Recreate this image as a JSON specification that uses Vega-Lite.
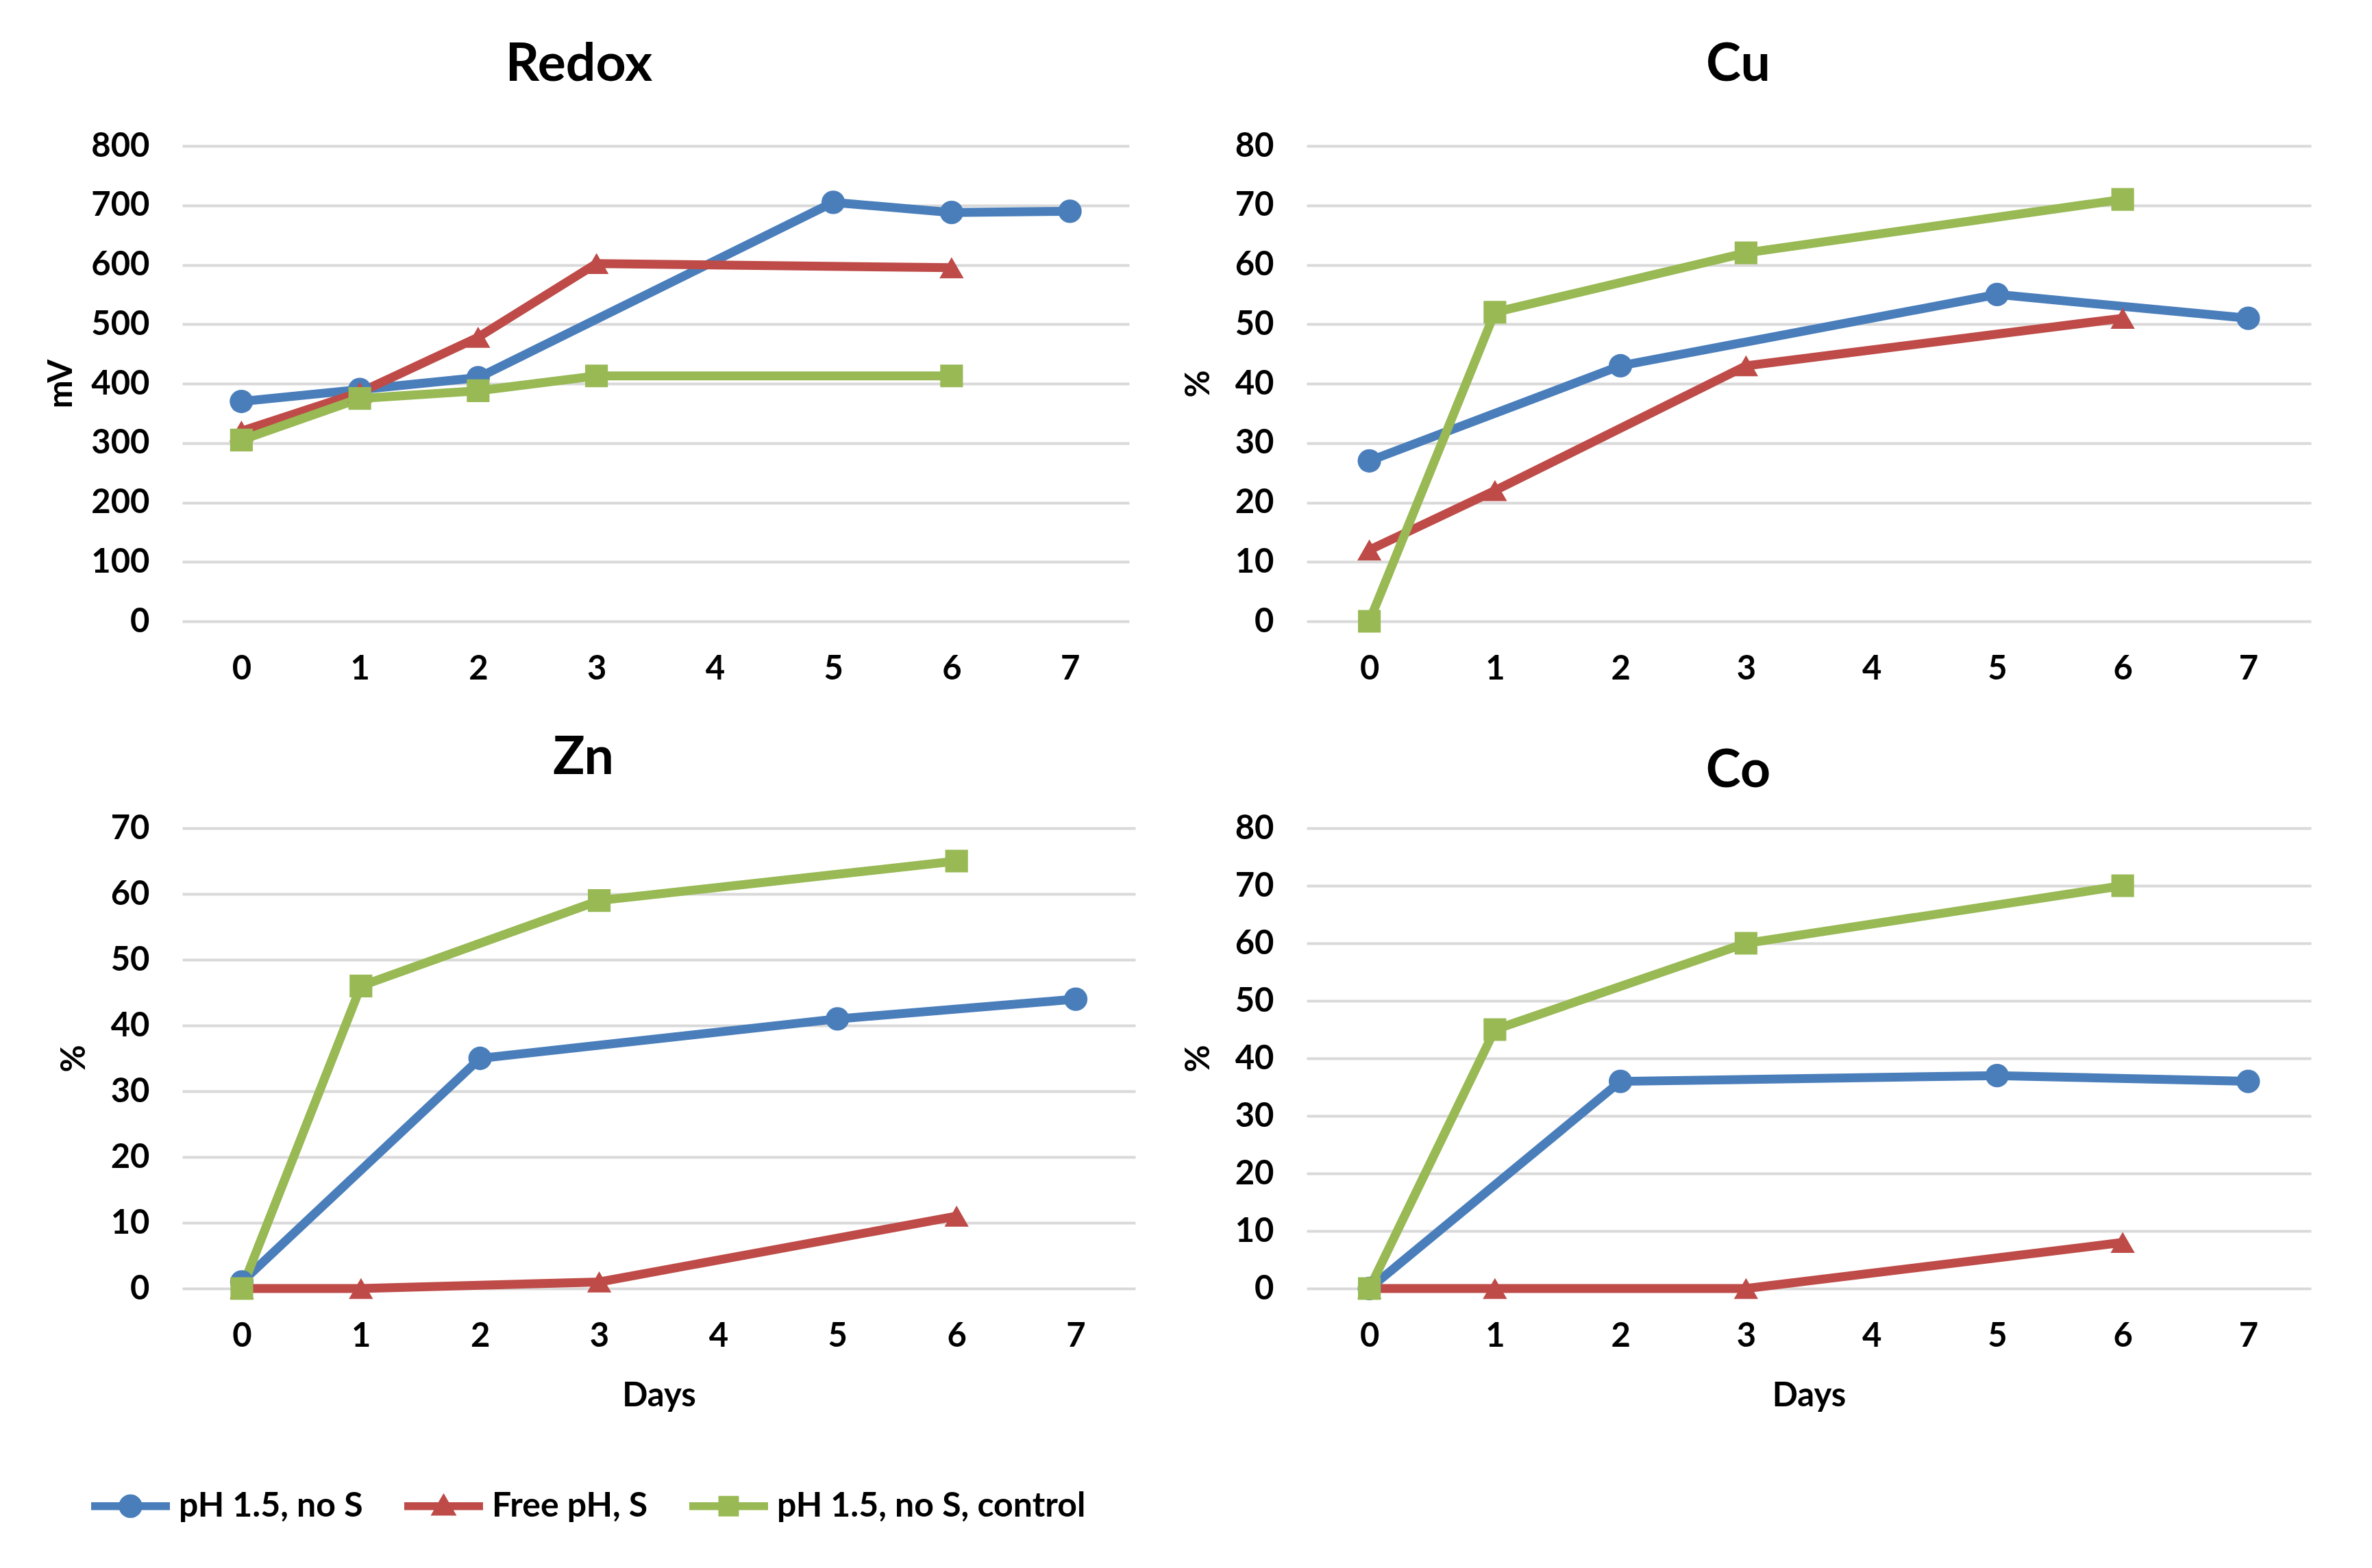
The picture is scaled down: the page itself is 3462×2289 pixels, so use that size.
{
  "$schema": "https://vega.github.io/schema/vega-lite/v6.json",
  "autosize": {"type": "none"},
  "padding": {"left": 266, "top": 213, "right": 3196, "bottom": 2076},
  "background": "white",
  "datasets": {
    "redox": [
      {"series": "pH 1.5, no S", "day": 0, "value": 370},
      {"series": "pH 1.5, no S", "day": 1, "value": 390},
      {"series": "pH 1.5, no S", "day": 2, "value": 410},
      {"series": "pH 1.5, no S", "day": 5, "value": 705},
      {"series": "pH 1.5, no S", "day": 6, "value": 688},
      {"series": "pH 1.5, no S", "day": 7, "value": 690},
      {"series": "Free pH, S", "day": 0, "value": 320},
      {"series": "Free pH, S", "day": 1, "value": 385},
      {"series": "Free pH, S", "day": 2, "value": 478},
      {"series": "Free pH, S", "day": 3, "value": 602},
      {"series": "Free pH, S", "day": 6, "value": 595},
      {"series": "pH 1.5, no S, control", "day": 0, "value": 305},
      {"series": "pH 1.5, no S, control", "day": 1, "value": 375},
      {"series": "pH 1.5, no S, control", "day": 2, "value": 388},
      {"series": "pH 1.5, no S, control", "day": 3, "value": 413},
      {"series": "pH 1.5, no S, control", "day": 6, "value": 413}
    ],
    "cu": [
      {"series": "pH 1.5, no S", "day": 0, "value": 27},
      {"series": "pH 1.5, no S", "day": 2, "value": 43},
      {"series": "pH 1.5, no S", "day": 5, "value": 55},
      {"series": "pH 1.5, no S", "day": 7, "value": 51},
      {"series": "Free pH, S", "day": 0, "value": 12},
      {"series": "Free pH, S", "day": 1, "value": 22},
      {"series": "Free pH, S", "day": 3, "value": 43},
      {"series": "Free pH, S", "day": 6, "value": 51},
      {"series": "pH 1.5, no S, control", "day": 0, "value": 0},
      {"series": "pH 1.5, no S, control", "day": 1, "value": 52},
      {"series": "pH 1.5, no S, control", "day": 3, "value": 62},
      {"series": "pH 1.5, no S, control", "day": 6, "value": 71}
    ],
    "zn": [
      {"series": "pH 1.5, no S", "day": 0, "value": 1},
      {"series": "pH 1.5, no S", "day": 2, "value": 35},
      {"series": "pH 1.5, no S", "day": 5, "value": 41},
      {"series": "pH 1.5, no S", "day": 7, "value": 44},
      {"series": "Free pH, S", "day": 0, "value": 0},
      {"series": "Free pH, S", "day": 1, "value": 0},
      {"series": "Free pH, S", "day": 3, "value": 1},
      {"series": "Free pH, S", "day": 6, "value": 11},
      {"series": "pH 1.5, no S, control", "day": 0, "value": 0},
      {"series": "pH 1.5, no S, control", "day": 1, "value": 46},
      {"series": "pH 1.5, no S, control", "day": 3, "value": 59},
      {"series": "pH 1.5, no S, control", "day": 6, "value": 65}
    ],
    "co": [
      {"series": "pH 1.5, no S", "day": 0, "value": 0},
      {"series": "pH 1.5, no S", "day": 2, "value": 36},
      {"series": "pH 1.5, no S", "day": 5, "value": 37},
      {"series": "pH 1.5, no S", "day": 7, "value": 36},
      {"series": "Free pH, S", "day": 0, "value": 0},
      {"series": "Free pH, S", "day": 1, "value": 0},
      {"series": "Free pH, S", "day": 3, "value": 0},
      {"series": "Free pH, S", "day": 6, "value": 8},
      {"series": "pH 1.5, no S, control", "day": 0, "value": 0},
      {"series": "pH 1.5, no S, control", "day": 1, "value": 45},
      {"series": "pH 1.5, no S, control", "day": 3, "value": 60},
      {"series": "pH 1.5, no S, control", "day": 6, "value": 70}
    ]
  },
  "config": {
    "view": {"stroke": null},
    "font": "Lato",
    "axis": {
      "labelFont": "Lato", "labelFontSize": 49, "labelFontWeight": "bold", "labelColor": "#000000",
      "titleFont": "Lato", "titleFontSize": 49, "titleFontWeight": "bold", "titleColor": "#000000",
      "domain": false, "ticks": false, "gridColor": "#D9D9D9", "gridWidth": 4
    },
    "axisX": {"grid": false, "labelAngle": 0, "labelPadding": 45, "titlePadding": 38},
    "axisY": {"grid": true, "labelPadding": 48, "titlePadding": 28},
    "title": {"font": "Lato", "fontSize": 77, "fontWeight": "bold", "color": "#000000", "anchor": "middle", "baseline": "alphabetic"},
    "legend": {"labelFont": "Lato", "labelFontSize": 50, "labelFontWeight": "bold", "labelColor": "#000000", "padding": 0, "labelLimit": 0}
  },
  "concat": [
    {
      "title": {"text": "Redox", "offset": 55, "dx": -112},
      "width": 1382, "height": 694,
      "data": {"name": "redox"},
      "encoding": {
        "x": {"field": "day", "type": "ordinal", "scale": {"type": "point", "padding": 0.5, "domain": [0,1,2,3,4,5,6,7]}, "axis": {"title": null}},
        "y": {"field": "value", "type": "quantitative", "scale": {"domain": [0, 800], "nice": false}, "axis": {"title": "mV", "titlePadding": 18, "values": [0,100,200,300,400,500,600,700,800]}},
        "color": {"field": "series", "type": "nominal", "scale": {"domain": ["pH 1.5, no S", "Free pH, S", "pH 1.5, no S, control"], "range": ["#4A7EBB", "#BE4B48", "#98B954"]},
          "legend": {"title": null, "orient": "none", "legendX": -133, "legendY": 1928, "direction": "horizontal", "symbolSize": 13225, "labelOffset": 13, "columnPadding": 60,
            "encode": {"symbols": {"update": {
              "shape": {"signal": "datum.value === 'pH 1.5, no S' ? 'M-1,-0.1L1,-0.1L1,0.1L-1,0.1Z M0.3,0A0.3,0.3 0 1,1 -0.3,0A0.3,0.3 0 1,1 0.3,0Z' : datum.value === 'Free pH, S' ? 'M-1,-0.1L1,-0.1L1,0.1L-1,0.1Z M0,-0.33L0.33,0.24L-0.33,0.24Z' : 'M-1,-0.1L1,-0.1L1,0.1L-1,0.1Z M-0.26,-0.26L0.26,-0.26L0.26,0.26L-0.26,0.26Z'"},
              "fill": {"signal": "datum.value === 'pH 1.5, no S' ? '#4A7EBB' : datum.value === 'Free pH, S' ? '#BE4B48' : '#98B954'"},
              "fillOpacity": {"value": 1}, "opacity": {"value": 1},
              "strokeWidth": {"value": 0}, "size": {"value": 13225}}}}}}
      },
      "layer": [
        {"mark": {"type": "line", "strokeWidth": 13}},
        {"mark": {"type": "point", "filled": true, "opacity": 1}, "encoding": {
          "shape": {"field": "series", "type": "nominal", "scale": {"domain": ["Free pH, S", "pH 1.5, no S", "pH 1.5, no S, control"], "range": ["triangle-up", "circle", "square"]}, "legend": null},
          "size": {"field": "series", "type": "nominal", "scale": {"domain": ["pH 1.5, no S, control", "pH 1.5, no S", "Free pH, S"], "range": [1100, 1250, 1800]}, "legend": null}}}
      ]
    },
    {
      "title": {"text": "Cu", "offset": 55, "dx": -103},
      "width": 1466, "height": 694,
      "data": {"name": "cu"},
      "encoding": {
        "x": {"field": "day", "type": "ordinal", "scale": {"type": "point", "padding": 0.5, "domain": [0,1,2,3,4,5,6,7]}, "axis": {"title": null}},
        "y": {"field": "value", "type": "quantitative", "scale": {"domain": [0, 80], "nice": false}, "axis": {"title": "%", "values": [0,10,20,30,40,50,60,70,80]}},
        "color": {"field": "series", "type": "nominal", "scale": {"domain": ["pH 1.5, no S", "Free pH, S", "pH 1.5, no S, control"], "range": ["#4A7EBB", "#BE4B48", "#98B954"]},
          "legend": {"title": null, "orient": "none", "legendX": -133, "legendY": 1928, "direction": "horizontal", "symbolSize": 13225, "labelOffset": 13, "columnPadding": 60,
            "encode": {"symbols": {"update": {
              "shape": {"signal": "datum.value === 'pH 1.5, no S' ? 'M-1,-0.1L1,-0.1L1,0.1L-1,0.1Z M0.3,0A0.3,0.3 0 1,1 -0.3,0A0.3,0.3 0 1,1 0.3,0Z' : datum.value === 'Free pH, S' ? 'M-1,-0.1L1,-0.1L1,0.1L-1,0.1Z M0,-0.33L0.33,0.24L-0.33,0.24Z' : 'M-1,-0.1L1,-0.1L1,0.1L-1,0.1Z M-0.26,-0.26L0.26,-0.26L0.26,0.26L-0.26,0.26Z'"},
              "fill": {"signal": "datum.value === 'pH 1.5, no S' ? '#4A7EBB' : datum.value === 'Free pH, S' ? '#BE4B48' : '#98B954'"},
              "fillOpacity": {"value": 1}, "opacity": {"value": 1},
              "strokeWidth": {"value": 0}, "size": {"value": 13225}}}}}}
      },
      "layer": [
        {"mark": {"type": "line", "strokeWidth": 13}},
        {"mark": {"type": "point", "filled": true, "opacity": 1}, "encoding": {
          "shape": {"field": "series", "type": "nominal", "scale": {"domain": ["Free pH, S", "pH 1.5, no S", "pH 1.5, no S, control"], "range": ["triangle-up", "circle", "square"]}, "legend": null},
          "size": {"field": "series", "type": "nominal", "scale": {"domain": ["pH 1.5, no S, control", "pH 1.5, no S", "Free pH, S"], "range": [1100, 1250, 1800]}, "legend": null}}}
      ]
    },
    {
      "title": {"text": "Zn", "offset": 39, "dx": -110},
      "width": 1391, "height": 672,
      "data": {"name": "zn"},
      "encoding": {
        "x": {"field": "day", "type": "ordinal", "scale": {"type": "point", "padding": 0.5, "domain": [0,1,2,3,4,5,6,7]}, "axis": {"title": "Days"}},
        "y": {"field": "value", "type": "quantitative", "scale": {"domain": [0, 70], "nice": false}, "axis": {"title": "%", "values": [0,10,20,30,40,50,60,70]}},
        "color": {"field": "series", "type": "nominal", "scale": {"domain": ["pH 1.5, no S", "Free pH, S", "pH 1.5, no S, control"], "range": ["#4A7EBB", "#BE4B48", "#98B954"]},
          "legend": {"title": null, "orient": "none", "legendX": -133, "legendY": 1928, "direction": "horizontal", "symbolSize": 13225, "labelOffset": 13, "columnPadding": 60,
            "encode": {"symbols": {"update": {
              "shape": {"signal": "datum.value === 'pH 1.5, no S' ? 'M-1,-0.1L1,-0.1L1,0.1L-1,0.1Z M0.3,0A0.3,0.3 0 1,1 -0.3,0A0.3,0.3 0 1,1 0.3,0Z' : datum.value === 'Free pH, S' ? 'M-1,-0.1L1,-0.1L1,0.1L-1,0.1Z M0,-0.33L0.33,0.24L-0.33,0.24Z' : 'M-1,-0.1L1,-0.1L1,0.1L-1,0.1Z M-0.26,-0.26L0.26,-0.26L0.26,0.26L-0.26,0.26Z'"},
              "fill": {"signal": "datum.value === 'pH 1.5, no S' ? '#4A7EBB' : datum.value === 'Free pH, S' ? '#BE4B48' : '#98B954'"},
              "fillOpacity": {"value": 1}, "opacity": {"value": 1},
              "strokeWidth": {"value": 0}, "size": {"value": 13225}}}}}}
      },
      "layer": [
        {"mark": {"type": "line", "strokeWidth": 13}},
        {"mark": {"type": "point", "filled": true, "opacity": 1}, "encoding": {
          "shape": {"field": "series", "type": "nominal", "scale": {"domain": ["Free pH, S", "pH 1.5, no S", "pH 1.5, no S, control"], "range": ["triangle-up", "circle", "square"]}, "legend": null},
          "size": {"field": "series", "type": "nominal", "scale": {"domain": ["pH 1.5, no S, control", "pH 1.5, no S", "Free pH, S"], "range": [1100, 1250, 1800]}, "legend": null}}}
      ]
    },
    {
      "title": {"text": "Co", "offset": 20, "dx": -103},
      "width": 1466, "height": 672,
      "data": {"name": "co"},
      "encoding": {
        "x": {"field": "day", "type": "ordinal", "scale": {"type": "point", "padding": 0.5, "domain": [0,1,2,3,4,5,6,7]}, "axis": {"title": "Days"}},
        "y": {"field": "value", "type": "quantitative", "scale": {"domain": [0, 80], "nice": false}, "axis": {"title": "%", "values": [0,10,20,30,40,50,60,70,80]}},
        "color": {"field": "series", "type": "nominal", "scale": {"domain": ["pH 1.5, no S", "Free pH, S", "pH 1.5, no S, control"], "range": ["#4A7EBB", "#BE4B48", "#98B954"]},
          "legend": {"title": null, "orient": "none", "legendX": -133, "legendY": 1928, "direction": "horizontal", "symbolSize": 13225, "labelOffset": 13, "columnPadding": 60,
            "encode": {"symbols": {"update": {
              "shape": {"signal": "datum.value === 'pH 1.5, no S' ? 'M-1,-0.1L1,-0.1L1,0.1L-1,0.1Z M0.3,0A0.3,0.3 0 1,1 -0.3,0A0.3,0.3 0 1,1 0.3,0Z' : datum.value === 'Free pH, S' ? 'M-1,-0.1L1,-0.1L1,0.1L-1,0.1Z M0,-0.33L0.33,0.24L-0.33,0.24Z' : 'M-1,-0.1L1,-0.1L1,0.1L-1,0.1Z M-0.26,-0.26L0.26,-0.26L0.26,0.26L-0.26,0.26Z'"},
              "fill": {"signal": "datum.value === 'pH 1.5, no S' ? '#4A7EBB' : datum.value === 'Free pH, S' ? '#BE4B48' : '#98B954'"},
              "fillOpacity": {"value": 1}, "opacity": {"value": 1},
              "strokeWidth": {"value": 0}, "size": {"value": 13225}}}}}}
      },
      "layer": [
        {"mark": {"type": "line", "strokeWidth": 13}},
        {"mark": {"type": "point", "filled": true, "opacity": 1}, "encoding": {
          "shape": {"field": "series", "type": "nominal", "scale": {"domain": ["Free pH, S", "pH 1.5, no S", "pH 1.5, no S, control"], "range": ["triangle-up", "circle", "square"]}, "legend": null},
          "size": {"field": "series", "type": "nominal", "scale": {"domain": ["pH 1.5, no S, control", "pH 1.5, no S", "Free pH, S"], "range": [1100, 1250, 1800]}, "legend": null}}}
      ]
    }
  ],
  "columns": 2,
  "spacing": {"row": 302, "column": 250},
  "bounds": "flush"
}
